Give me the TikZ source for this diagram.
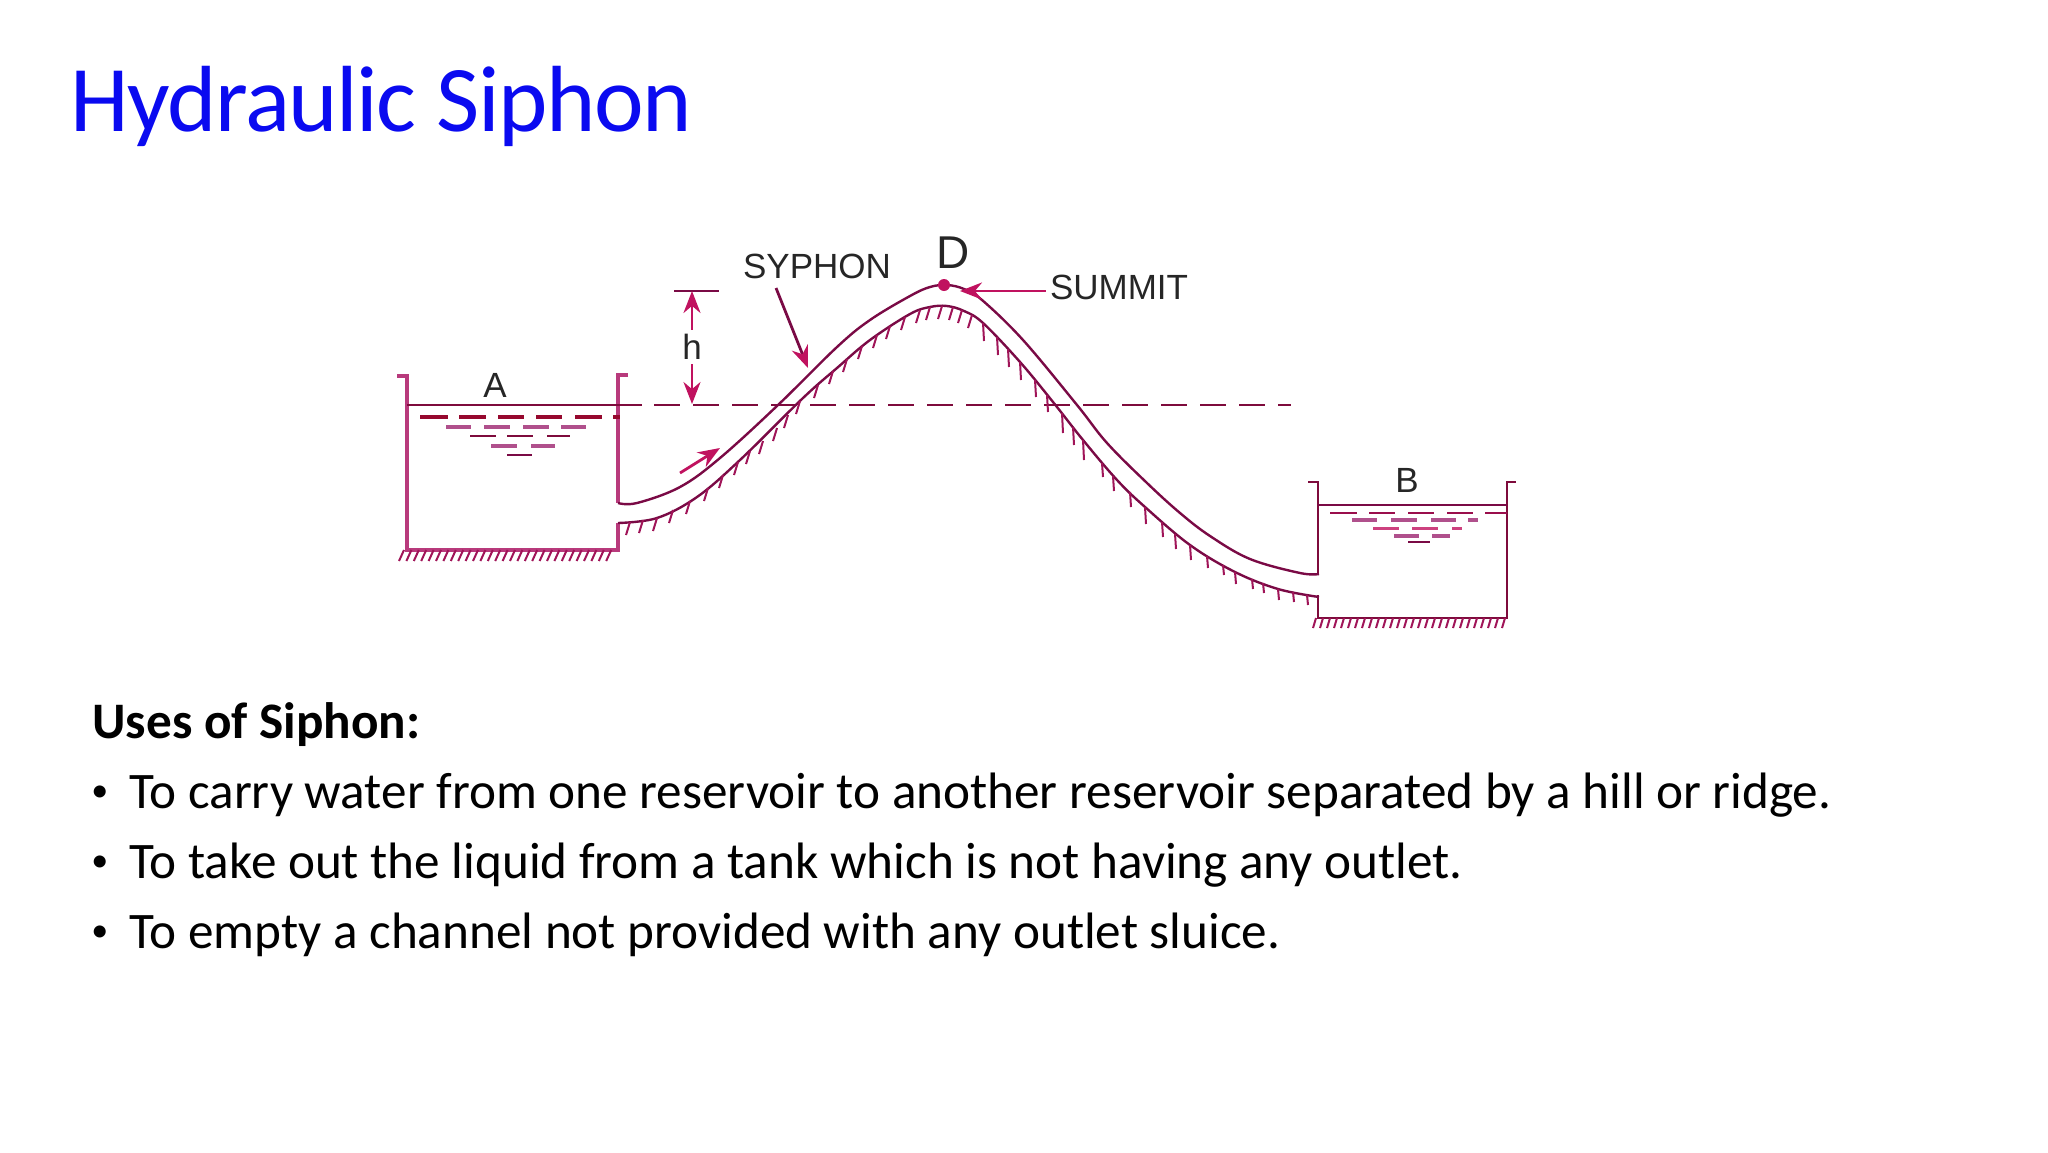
\documentclass[tikz,border=0pt]{standalone}
\usepackage{fontspec}
\setmainfont{Carlito}
\newfontfamily\labelfont{Liberation Sans}
\newfontfamily\titlefont[LetterSpace=-1.5]{Carlito}
\usetikzlibrary{arrows.meta}
\definecolor{pipedark}{HTML}{7A0A45}
\definecolor{wallpink}{HTML}{B83A7C}
\definecolor{walldark}{HTML}{7E0B3C}
\definecolor{arrowpink}{HTML}{C0125F}
\definecolor{hatchcol}{HTML}{A01458}
\definecolor{washred}{HTML}{96082E}
\definecolor{washmauve}{HTML}{B0508C}
\definecolor{titleblue}{HTML}{0A0AF0}
\tikzset{
  lbl/.style={font=\labelfont\fontsize{17.5}{18}\selectfont,text=black!85,inner sep=0pt},
  pipeline/.style={draw=pipedark,line width=1.2pt},
  wallA/.style={draw=wallpink,line width=1.7pt},
  wallB/.style={draw=walldark,line width=1.3pt},
  hatching/.style={draw=hatchcol,line width=1pt},
  pointer/.style={draw=arrowpink,line width=1.4pt,-{Stealth[length=11pt,width=8.5pt]}},
  title/.style={font=\titlefont\fontsize{47}{50}\selectfont,text=titleblue,anchor=base west,inner sep=0pt},
  bodyline/.style={font=\fontsize{25.6}{28}\selectfont,text=black,anchor=base west,inner sep=0pt},
  bulletmark/.style={font=\fontsize{17}{20}\selectfont,text=black,anchor=base west,inner sep=0pt},
}
\begin{document}
\begin{tikzpicture}[x=0.5pt,y=-0.5pt]
\useasboundingbox (0,0) rectangle (2048,1152);
% text
\node[title] (ttl) at (70,131) {Hydraulic Siphon};
\node[bodyline,font=\fontsize{25.6}{28}\selectfont\bfseries] (uses) at (92,738) {Uses of Siphon:};
\node[bulletmark] (b1) at (91,801) {•};
\node[bodyline] (l1) at (129,808) {To carry water from one reservoir to another reservoir separated by a hill or ridge.};
\node[bulletmark] (b2) at (91,871) {•};
\node[bodyline] (l2) at (129,878) {To take out the liquid from a tank which is not having any outlet.};
\node[bulletmark] (b3) at (91,941) {•};
\node[bodyline] (l3) at (129,948) {To empty a channel not provided with any outlet sluice.};
% tank A
\draw[wallA] (397,376) -- (407,376) -- (407,550) -- (618,550) -- (618,523);
\draw[wallA] (628,375) -- (618,375) -- (618,503);
\draw[hatching] foreach \x in {404,411.4,...,618} {(\x,550) -- (\x-5,561)};
\draw[draw=walldark,line width=1.2pt] (407,405) -- (642,405);
\draw[draw=walldark,line width=1.2pt,dash pattern=on 13pt off 6.5pt] (654,405) -- (1291,405);
% tank A water
\foreach \a/\b in {420/448,459/486,498/524,536/562,575/602,613/620} \draw[draw=washred,line width=2.2pt] (\a,417) -- (\b,417);
\foreach \a/\b in {446/471,484/510,523/549,561/586} \draw[draw=washmauve,line width=1.8pt] (\a,427) -- (\b,427);
\foreach \a/\b in {470/496,507/533,547/570} \draw[draw=walldark,line width=1.1pt] (\a,436) -- (\b,436);
\foreach \a/\b in {491/517,531/555} \draw[draw=washmauve,line width=1.8pt] (\a,446) -- (\b,446);
\draw[draw=pipedark,line width=1.1pt] (507,455) -- (532,455);
% tank B
\draw[wallB] (1308,482) -- (1318,482) -- (1318,574);
\draw[wallB] (1318,595) -- (1318,618) -- (1507,618) -- (1507,482) -- (1516,482);
\draw[hatching] foreach \x in {1316,1323,...,1506} {(\x,618) -- (\x-3,628)};
\draw[draw=pipedark,line width=1.2pt] (1318,505) -- (1507,505);
\foreach \a/\b in {1330/1357,1369/1395,1408/1434,1447/1473,1485/1507} \draw[draw=arrowpink!80!black,line width=1.2pt] (\a,513) -- (\b,513);
\foreach \a/\b in {1352/1377,1391/1417,1431/1456,1468/1478} \draw[draw=washmauve,line width=1.8pt] (\a,520) -- (\b,520);
\foreach \a/\b in {1373/1399,1412/1438,1452/1462} \draw[draw=arrowpink!80,line width=1.5pt] (\a,528) -- (\b,528);
\foreach \a/\b in {1394/1419,1432/1450} \draw[draw=washmauve,line width=1.8pt] (\a,536) -- (\b,536);
\draw[draw=pipedark,line width=1.1pt] (1408,542) -- (1430,542);
% pipe
\draw[pipeline] plot[smooth,tension=.6] coordinates {(618,503) (637,503) (680,487) (720,458) (778,405) (837,347) (870,320) (910,296) (930,287) (947,285) (964,289) (982,300) (1023,340) (1077,405) (1107,443) (1147,483) (1180,513) (1210,536) (1250,559) (1300,573) (1319,574)};
\draw[pipeline] plot[smooth,tension=.6] coordinates {(618,523) (657,518) (697,497) (740,460) (803,398) (837,368) (870,340) (910,314) (930,307) (947,306) (964,311) (983,323) (1020,362) (1053,402) (1083,440) (1117,480) (1145,507) (1190,545) (1235,572) (1278,589) (1319,597)};
\draw[hatching] foreach \p/\q in {630/522,643/520,657/518,673/510,690/501,708/488,723/475,738/462,750/451,763/441,777/428,788/415,800/401,818/385,833/371,847/359,862/346,877/335,890/326,905/317,920/310,930/307,942/306,953/307,962/310,972/315} {(\p,\q) -- (\p-4,\q+13)};
\draw[hatching] foreach \p/\q/\l in {983/323/18,997/337/18,1008/349/18,1020/362/18,1035/380/17,1047/395/17,1062/413/20,1073/427/18,1083/440/20,1102/463/14,1113/476/15,1130/492/15,1145/507/17,1162/522/15,1175/534/15,1190/545/15,1207/556/12,1223/565/10,1235/572/12,1252/579/10,1263/583/10,1278/589/11,1293/592/10,1307/595/10} {(\p,\q) -- (\p+1,\q+\l)};
% labels
\node[lbl] (A) at (495,385) {A};
\node[lbl] (B) at (1407,480) {B};
\node[lbl] (H) at (692,347) {h};
\node[lbl] (syphon) at (817,266) {SYPHON};
\node[lbl] (summit) at (1119,287) {SUMMIT};
\node[lbl,font=\labelfont\fontsize{23}{26}\selectfont] (D) at (953,253) {D};
% connectors
\coordinate (htop) at (692,291);
\coordinate (hbase) at (692,404);
\draw[draw=pipedark,line width=1.2pt] (674,291) -- (719,291);
\draw[pointer] (H.north) ++(0,-4) -- (htop);
\draw[pointer] (H.south) ++(0,4) -- (hbase);
\coordinate (syphontail) at (776,288);
\coordinate (syphontip) at (808,368);
\draw[pointer,draw=pipedark,-{Stealth[length=11pt,width=8.5pt,color=arrowpink]}] (syphontail) -- (syphontip);
\coordinate (summittip) at (960,291);
\draw[pointer] (summit.west) ++(-4,4) -- (summittip);
\node[circle,fill=arrowpink,inner sep=0pt,minimum size=6pt] (dot) at (944,285) {};
\coordinate (flowtail) at (680,473);
\coordinate (flowtip) at (720,448);
\draw[pointer] (flowtail) -- (flowtip);
\end{tikzpicture}
\end{document}
